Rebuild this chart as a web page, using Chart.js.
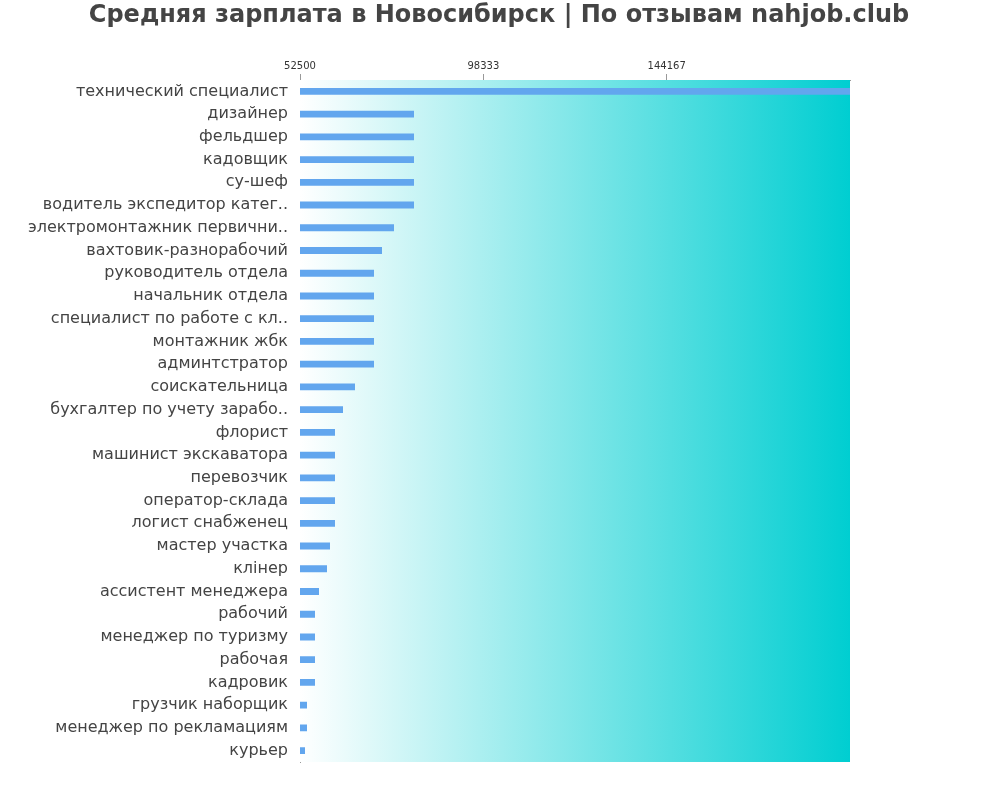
<!DOCTYPE html>
<html><head><meta charset="utf-8">
<script src="https://cdn.jsdelivr.net/npm/chart.js@4"></script>
<style>body{margin:0;background:#fff}#w{width:1000px;height:800px}</style>
</head><body><div id="w"><canvas id="c"></canvas></div>
<script>
const categories=["технический специалист","дизайнер","фельдшер","кадовщик","су-шеф","водитель экспедитор катег..","электромонтажник первични..","вахтовик-разнорабочий","руководитель отдела","начальник отдела","специалист по работе с кл..","монтажник жбк","админтстратор","соискательница","бухгалтер по учету зарабо..","флорист","машинист экскаватора","перевозчик","оператор-склада","логист снабженец","мастер участка","клінер","ассистент менеджера","рабочий","менеджер по туризму","рабочая","кадровик","грузчик наборщик","менеджер по рекламациям","курьер"];
const salaries=[190000,81000,81000,81000,81000,81000,76000,73000,71000,71000,71000,71000,71000,66250,63250,61250,61250,61250,61250,61250,60000,59250,57250,56250,56250,56250,56250,54250,54250,53750];
const tickValues=[52500,98333,144167];
const titleText='Средняя зарплата в Новосибирск | По отзывам nahjob.club';
const bg={id:'bg',beforeDatasetsDraw(ch){const a=ch.chartArea,x=ch.ctx;const g=x.createLinearGradient(a.left,0,a.right,0);g.addColorStop(0,'#ffffff');g.addColorStop(1,'#00ced1');x.save();x.fillStyle=g;x.fillRect(a.left,a.top,a.right-a.left,a.bottom-a.top);x.restore();},
afterDraw(ch){const x=ch.ctx;x.save();x.font='bold 24px "DejaVu Sans"';x.fillStyle='#444';x.textAlign='center';x.textBaseline='middle';x.fillText(titleText,499,16);x.restore();}};
new Chart(document.getElementById('c'),{type:'bar',data:{labels:categories,datasets:[{data:salaries,backgroundColor:'#62a6ee',barPercentage:0.3,categoryPercentage:1}]},
options:{indexAxis:'y',responsive:true,maintainAspectRatio:false,animation:false,
layout:{padding:{right:150,bottom:38,top:58}},
plugins:{legend:{display:false},tooltip:{enabled:false},title:{display:false}},
scales:{x:{position:'top',min:52500,max:190000,afterBuildTicks(s){s.ticks=tickValues.map(v=>({value:v}));},
ticks:{color:'#333',font:{size:10,family:'DejaVu Sans'},padding:2,callback:v=>String(v)},grid:{display:true,drawOnChartArea:false,tickLength:6,color:'#999'},border:{color:'#999'}},
y:{afterFit(s){s.width=300;},ticks:{color:'#444',font:{size:16,family:'DejaVu Sans'},autoSkip:false,padding:4},grid:{display:false},border:{color:'#999'}}}},
plugins:[bg]});
</script></body></html>
